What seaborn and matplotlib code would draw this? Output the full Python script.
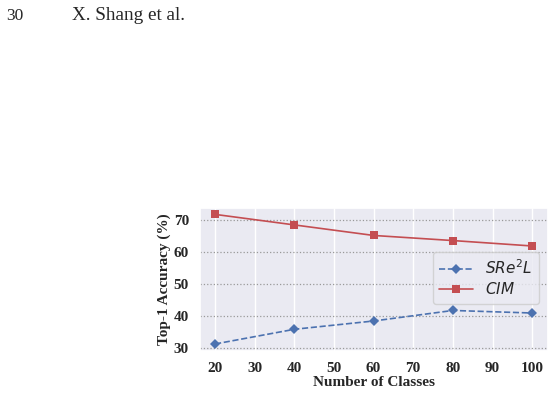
import matplotlib
matplotlib.use("Agg")
import matplotlib.pyplot as plt
import seaborn as sns
import pandas as pd

classes = [20, 40, 60, 80, 100]
sre2l = [31.2, 35.8, 38.4, 41.7, 40.9]
cim = [71.8, 68.5, 65.2, 63.6, 61.9]
x_ticks = [20, 30, 40, 50, 60, 70, 80, 90, 100]
y_ticks = [30, 40, 50, 60, 70]

sns.set_theme(style="darkgrid")
plt.rcParams['font.family'] = ['DejaVu Sans']

fig = plt.figure(figsize=(5.53, 3.95), dpi=100)
fig.text(6 / 553, 1 - 16 / 395, "30", family="Liberation Serif", fontsize=12.5, va="center", ha="left")
fig.text(72 / 553, 1 - 16 / 395, "X. Shang et al.", family="Liberation Serif", fontsize=13.8, va="center", ha="left")

ax = fig.add_axes([200 / 553, 1 - 351 / 395, 348 / 553, 143 / 395])

df1 = pd.DataFrame({"x": classes, "y": sre2l})
df2 = pd.DataFrame({"x": classes, "y": cim})
sns.lineplot(data=df1, x="x", y="y", ax=ax, color="#4C72B0", marker="D", markersize=5.5,
             linestyle="--", linewidth=1.2, markeredgewidth=0, label=r"$SRe^2L$")
sns.lineplot(data=df2, x="x", y="y", ax=ax, color="#C44E52", marker="s", markersize=5.5,
             linestyle="-", linewidth=1.2, markeredgewidth=0, label=r"$CIM$")

ax.set_xlim(16.2, 104)
ax.set_ylim(29.0, 73.8)
ax.set_xticks(x_ticks)
ax.set_yticks(y_ticks)
ax.grid(axis="y", color="#999999", linestyle=":", linewidth=0.9)
ax.grid(axis="x", color="white", linestyle="-", linewidth=1.0)
ax.tick_params(axis="both", pad=2)
for lab in ax.get_xticklabels() + ax.get_yticklabels():
    lab.set_family("Liberation Serif")
    lab.set_fontweight("bold")
    lab.set_fontsize(11)
ax.set_xlabel("Number of Classes", family="Liberation Serif", fontweight="bold", fontsize=11, labelpad=1)
ax.set_ylabel("Top-1 Accuracy (%)", family="Liberation Serif", fontweight="bold", fontsize=11, labelpad=2)

ax.legend(loc="upper right", bbox_to_anchor=(0.995, 0.745), fontsize=11, frameon=True,
          handlelength=2.2, borderpad=0.4, labelspacing=0.3)

fig.savefig("out.png", dpi=100)
